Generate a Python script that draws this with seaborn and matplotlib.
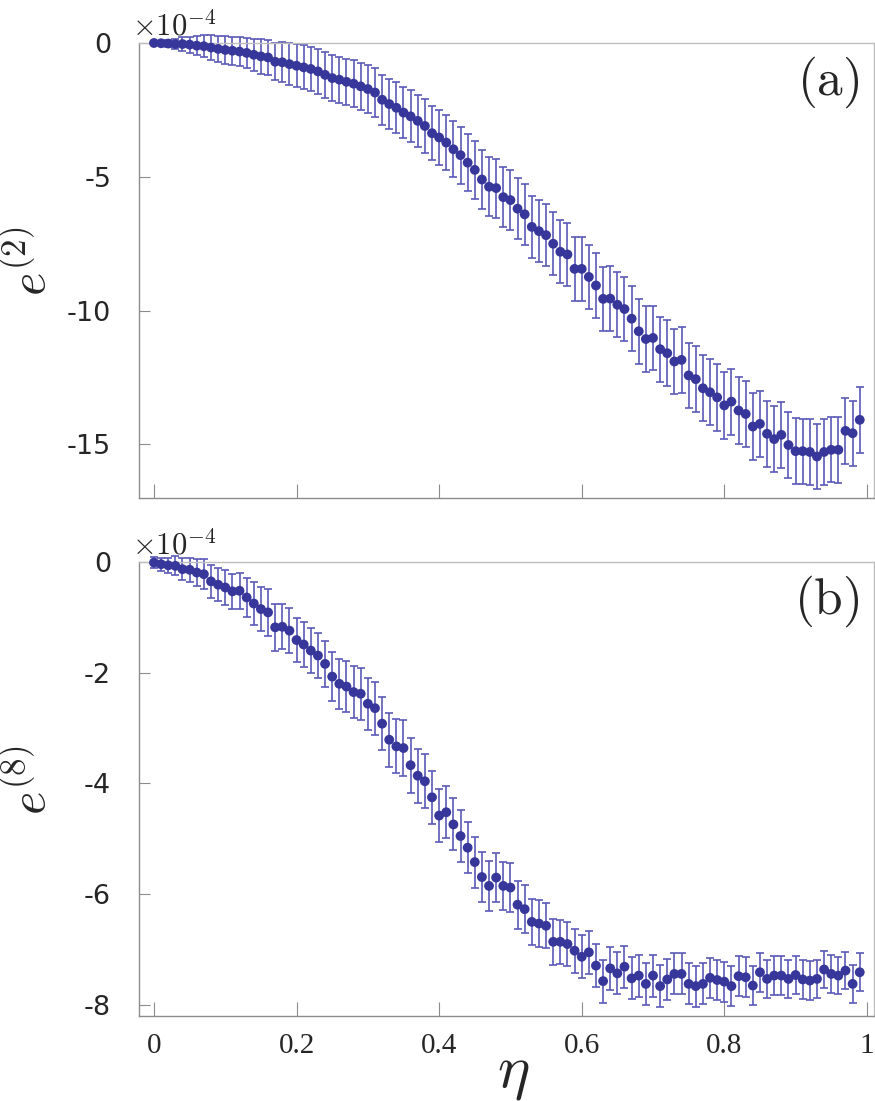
import matplotlib
matplotlib.use("Agg")
import matplotlib.pyplot as plt
import numpy as np
import pandas as pd
import seaborn as sns

# eta grid, 0.00 ... 0.99
eta = np.linspace(0.0, 0.99, 100)

# panel (a): e^(2) in units of 1e-4
e2 = [
    0.00, -0.01, -0.02, -0.04, -0.04, -0.06, -0.10, -0.12, -0.17, -0.22,
    -0.26, -0.29, -0.32, -0.37, -0.44, -0.50, -0.54, -0.70, -0.72, -0.79,
    -0.85, -0.91, -0.97, -1.06, -1.19, -1.31, -1.37, -1.45, -1.52, -1.62,
    -1.72, -1.85, -2.12, -2.28, -2.42, -2.60, -2.74, -2.91, -3.10, -3.37,
    -3.53, -3.72, -3.97, -4.19, -4.47, -4.74, -5.10, -5.37, -5.42, -5.76,
    -5.87, -6.19, -6.40, -6.87, -7.03, -7.18, -7.50, -7.80, -7.90, -8.44,
    -8.44, -8.74, -9.06, -9.56, -9.55, -9.78, -9.94, -10.30, -10.77, -11.06,
    -11.02, -11.44, -11.59, -11.90, -11.84, -12.42, -12.56, -12.90, -13.05, -13.24,
    -13.54, -13.40, -13.73, -13.86, -14.33, -14.23, -14.60, -14.80, -14.64, -15.02,
    -15.25, -15.25, -15.28, -15.45, -15.28, -15.20, -15.20, -14.49, -14.58, -14.08,
]
e2_err = [
    0.03, 0.08, 0.12, 0.18, 0.25, 0.30, 0.36, 0.42, 0.48, 0.50,
    0.51, 0.52, 0.53, 0.56, 0.60, 0.64, 0.67, 0.70, 0.74, 0.78,
    0.80, 0.82, 0.83, 0.84, 0.85, 0.85, 0.86, 0.87, 0.88, 0.89,
    0.90, 0.92, 0.93, 0.94, 0.95, 0.96, 0.97, 0.98, 1.00, 1.02,
    1.03, 1.04, 1.05, 1.06, 1.07, 1.08, 1.09, 1.10, 1.10, 1.11,
    1.12, 1.13, 1.14, 1.15, 1.16, 1.17, 1.18, 1.18, 1.19, 1.20,
    1.20, 1.20, 1.21, 1.20, 1.21, 1.22, 1.21, 1.22, 1.21, 1.22,
    1.21, 1.22, 1.23, 1.22, 1.23, 1.22, 1.23, 1.24, 1.23, 1.24,
    1.24, 1.23, 1.24, 1.23, 1.24, 1.23, 1.23, 1.24, 1.23, 1.22,
    1.23, 1.22, 1.23, 1.22, 1.23, 1.22, 1.23, 1.23, 1.22, 1.23,
]

# panel (b): e^(8) in units of 1e-4
e8 = [
    -0.01, -0.04, -0.06, -0.07, -0.13, -0.14, -0.19, -0.22, -0.35, -0.41,
    -0.46, -0.53, -0.52, -0.64, -0.75, -0.85, -0.91, -1.18, -1.17, -1.24,
    -1.41, -1.49, -1.60, -1.69, -1.84, -2.07, -2.20, -2.25, -2.35, -2.38,
    -2.56, -2.64, -2.92, -3.21, -3.33, -3.36, -3.67, -3.86, -3.96, -4.25,
    -4.58, -4.52, -4.74, -4.95, -5.16, -5.42, -5.69, -5.85, -5.70, -5.85,
    -5.88, -6.19, -6.27, -6.50, -6.53, -6.57, -6.86, -6.86, -6.90, -7.02,
    -7.13, -7.05, -7.29, -7.57, -7.34, -7.43, -7.31, -7.52, -7.47, -7.62,
    -7.47, -7.66, -7.54, -7.44, -7.44, -7.62, -7.66, -7.62, -7.51, -7.55,
    -7.58, -7.66, -7.48, -7.50, -7.65, -7.41, -7.53, -7.47, -7.47, -7.53,
    -7.46, -7.54, -7.56, -7.53, -7.36, -7.44, -7.47, -7.38, -7.62, -7.41,
]
e8_err = [
    0.10, 0.12, 0.14, 0.17, 0.20, 0.22, 0.25, 0.27, 0.30, 0.30,
    0.31, 0.31, 0.32, 0.35, 0.38, 0.40, 0.42, 0.42, 0.41, 0.41,
    0.40, 0.41, 0.41, 0.41, 0.41, 0.44, 0.45, 0.46, 0.47, 0.47,
    0.47, 0.48, 0.48, 0.49, 0.49, 0.50, 0.50, 0.49, 0.49, 0.48,
    0.48, 0.47, 0.47, 0.47, 0.46, 0.46, 0.45, 0.45, 0.44, 0.44,
    0.44, 0.43, 0.43, 0.42, 0.42, 0.41, 0.41, 0.40, 0.40, 0.40,
    0.39, 0.39, 0.39, 0.39, 0.39, 0.38, 0.38, 0.38, 0.38, 0.38,
    0.38, 0.38, 0.37, 0.37, 0.37, 0.37, 0.37, 0.37, 0.36, 0.36,
    0.36, 0.36, 0.36, 0.36, 0.36, 0.35, 0.35, 0.35, 0.35, 0.35,
    0.35, 0.35, 0.35, 0.34, 0.34, 0.34, 0.34, 0.34, 0.34, 0.34,
]

panels = [
    ("(a)", r"$e^{(2)}$", e2, e2_err, [0, -5, -10, -15], (-17.0, 0.0)),
    ("(b)", r"$e^{(8)}$", e8, e8_err, [0, -2, -4, -6, -8], (-8.2, 0.0)),
]

sns.set_theme(style="white")
plt.rcParams["mathtext.fontset"] = "cm"
plt.rcParams["axes.unicode_minus"] = False
plt.rcParams["font.family"] = ["DejaVu Sans"]

dot_color = "#37369a"
bar_color = "#5a5ab8"

fig = plt.figure(figsize=(8.75, 11.01), dpi=100)
boxes = [
    [139 / 875, 1 - 498 / 1101, 735 / 875, 455 / 1101],
    [139 / 875, 1 - 1016 / 1101, 735 / 875, 454 / 1101],
]

for k, (tag, ylab, vals, errs, yticks, ylim) in enumerate(panels):
    ax = fig.add_axes(boxes[k])
    df = pd.DataFrame({"eta": eta, "e": vals, "err": errs})

    ax.errorbar(df["eta"], df["e"], yerr=df["err"], fmt="none",
                ecolor=bar_color, elinewidth=1.2, capsize=3.2, capthick=1.2,
                zorder=2, clip_on=False)
    sns.scatterplot(data=df, x="eta", y="e", ax=ax, color=dot_color,
                    s=50, edgecolor="none", linewidth=0, zorder=3, clip_on=False)

    ax.set_xlim(-0.021, 1.01)
    ax.set_ylim(*ylim)
    ax.set_yticks(yticks)
    ax.set_yticklabels([str(t) for t in yticks])
    ax.set_xticks([0, 0.2, 0.4, 0.6, 0.8, 1.0])

    for side in ["left", "bottom"]:
        ax.spines[side].set_color("#8c8c8c")
        ax.spines[side].set_linewidth(1.0)
    for side in ["top", "right"]:
        ax.spines[side].set_color("#bdbdbd")
        ax.spines[side].set_linewidth(1.0)

    ax.tick_params(axis="y", direction="in", length=8, width=0.8,
                   color="#8c8c8c", labelsize=19.5, pad=20, left=True)
    ax.tick_params(axis="x", direction="in", length=10, width=0.8,
                   color="#8c8c8c", bottom=True, pad=12)

    if k == 0:
        ax.set_xticklabels([])
        ax.set_xlabel("")
    else:
        ax.set_xticklabels(["0", "0.2", "0.4", "0.6", "0.8", "1"],
                           family="Liberation Serif", fontsize=21)
        ax.set_xlabel(r"$\eta$", fontsize=44)
        ax.xaxis.set_label_coords(0.509, -0.06)

    ax.set_ylabel(ylab, fontsize=36)
    ax.yaxis.set_label_coords(-0.113, 0.52)

    ax.text(-0.01, 1.003, r"$\times10^{-4}$", transform=ax.transAxes,
            fontsize=22, ha="left", va="bottom")
    ax.text(0.98, 0.975, r"$\mathrm{%s}$" % tag, transform=ax.transAxes,
            fontsize=37, ha="right", va="top")

fig.savefig("out.png", dpi=100)
plt.close(fig)
